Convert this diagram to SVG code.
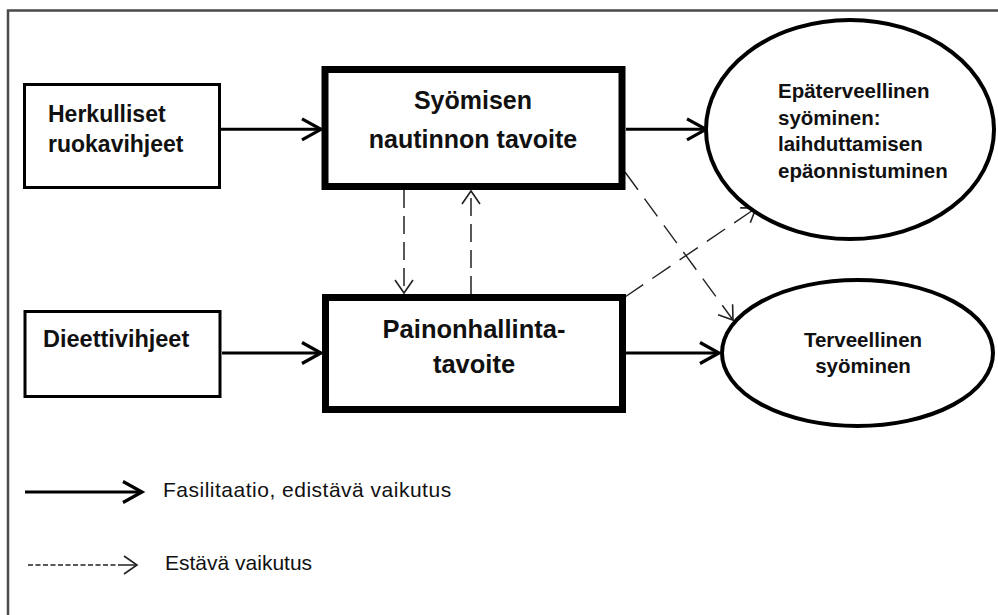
<svg xmlns="http://www.w3.org/2000/svg" width="998" height="615" viewBox="0 0 998 615">
<style>
.box{fill:#fff;stroke:#000;stroke-width:3}
.goal{fill:#fff;stroke:#000;stroke-width:7}
.oval{fill:#fff;stroke:#000;stroke-width:4}
.solid{fill:none;stroke:#000;stroke-width:3}
.dash{fill:none;stroke:#222;stroke-width:1.5;stroke-dasharray:18 8}
.ddash{fill:none;stroke:#222;stroke-width:1.4;stroke-dasharray:22 11}
.t{font-family:"Liberation Sans",Arial,sans-serif;font-weight:bold;fill:#111}
.lg{font-family:"Liberation Sans",Arial,sans-serif;fill:#111;font-size:21px}
</style>
<defs>
<marker id="hs" viewBox="-24 -14 28 28" markerWidth="28" markerHeight="28" refX="0" refY="0" orient="auto" markerUnits="userSpaceOnUse">
<path d="M-19,-10.5 L0,0 L-19,10.5" fill="none" stroke="#000" stroke-width="3.2"/>
</marker>
<marker id="hd" viewBox="-18 -12 22 24" markerWidth="22" markerHeight="24" refX="0" refY="0" orient="auto" markerUnits="userSpaceOnUse">
<path d="M-13,-9 L0,0 L-13,9" fill="none" stroke="#222" stroke-width="1.6"/>
</marker>
</defs>
<rect width="998" height="615" fill="#fff"/>
<path d="M8,615 V10.5 H998" fill="none" stroke="#4a4a4a" stroke-width="2.5"/>

<g id="connectors">
<line class="solid" x1="221" y1="129.3" x2="321" y2="129.3" marker-end="url(#hs)"/>
<line class="solid" x1="626" y1="129.3" x2="706" y2="129.3" marker-end="url(#hs)"/>
<line class="solid" x1="222" y1="353" x2="321" y2="353" marker-end="url(#hs)"/>
<line class="solid" x1="626" y1="353" x2="719" y2="353" marker-end="url(#hs)"/>
<line class="dash" x1="404" y1="190" x2="404" y2="293" marker-end="url(#hd)"/>
<line class="dash" x1="471" y1="294" x2="471" y2="191" marker-end="url(#hd)"/>
<line class="ddash" x1="625" y1="172" x2="733" y2="320" marker-end="url(#hd)"/>
<line class="ddash" x1="625" y1="297" x2="756" y2="208" marker-end="url(#hd)"/>
</g>

<g id="herkulliset">
<rect class="box" x="24.5" y="84.5" width="195" height="103"/>
<text class="t" font-size="23" x="48" y="122">Herkulliset</text>
<text class="t" font-size="23" x="48" y="152">ruokavihjeet</text>
</g>

<g id="dieettivihjeet">
<rect class="box" x="25" y="311.5" width="195" height="85"/>
<text class="t" font-size="23.5" x="43" y="347">Dieettivihjeet</text>
</g>

<g id="syomisen">
<rect class="goal" x="325" y="69.5" width="297" height="117"/>
<text class="t" font-size="25" x="473" y="109" text-anchor="middle">Syömisen</text>
<text class="t" font-size="25" x="473" y="148" text-anchor="middle">nautinnon tavoite</text>
</g>

<g id="painonhallinta">
<rect class="goal" x="325.5" y="297.5" width="297" height="112"/>
<text class="t" font-size="25.5" x="474" y="338" text-anchor="middle">Painonhallinta-</text>
<text class="t" font-size="25.5" x="474" y="373" text-anchor="middle">tavoite</text>
</g>

<g id="epaterveellinen">
<ellipse class="oval" cx="850" cy="129.5" rx="144" ry="109.5"/>
<text class="t" font-size="20.5" x="778" y="98">Epäterveellinen</text>
<text class="t" font-size="20.5" x="778" y="124.5">syöminen:</text>
<text class="t" font-size="20.5" x="778" y="151">laihduttamisen</text>
<text class="t" font-size="20.5" x="778" y="177.5">epäonnistuminen</text>
</g>

<g id="terveellinen">
<ellipse class="oval" cx="857.5" cy="353" rx="135.5" ry="73"/>
<text class="t" font-size="20.5" x="863" y="347" text-anchor="middle">Terveellinen</text>
<text class="t" font-size="20.5" x="863" y="373" text-anchor="middle">syöminen</text>
</g>

<g id="legend">
<line class="solid" x1="25" y1="492" x2="142" y2="492" stroke-width="3.5" marker-end="url(#hs)"/>
<text class="lg" x="163" y="497" letter-spacing="0.5">Fasilitaatio, edistävä vaikutus</text>
<line x1="28" y1="565" x2="123" y2="565" stroke="#222" stroke-width="1.5" stroke-dasharray="5 2.5"/>
<line x1="123" y1="565" x2="137" y2="565" stroke="#222" stroke-width="1.5" marker-end="url(#hd)"/>
<text class="lg" x="165" y="570">Estävä vaikutus</text>
</g>
</svg>
